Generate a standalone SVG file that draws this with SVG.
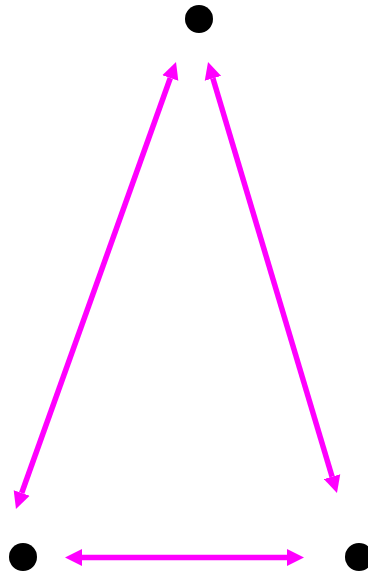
<svg xmlns="http://www.w3.org/2000/svg" width="368" height="573" viewBox="0 0 368 573">
<style>
.node{fill:#000}
.edge{stroke:#ff00ff;stroke-width:5.5;fill:none;marker-start:url(#ah);marker-end:url(#ah)}
</style>
<defs>
<marker id="ah" markerUnits="userSpaceOnUse" markerWidth="18" markerHeight="18" refX="0" refY="9" orient="auto-start-reverse">
<path d="M0,0.5 L17,9 L0,17.5 z" fill="#ff00ff"/>
</marker>
</defs>
<rect width="368" height="573" fill="#fff"/>
<g id="connectors">
<line class="edge" x1="170.3" y1="78" x2="21.7" y2="493"/>
<line class="edge" x1="212.9" y1="78.3" x2="332.1" y2="476.7"/>
<line class="edge" x1="82" y1="557.5" x2="287" y2="557.5"/>
</g>
<g id="n-top"><circle class="node" cx="199" cy="19" r="14"/></g>
<g id="n-left"><circle class="node" cx="23" cy="557" r="14"/></g>
<g id="n-right"><circle class="node" cx="359" cy="557" r="14"/></g>
</svg>
